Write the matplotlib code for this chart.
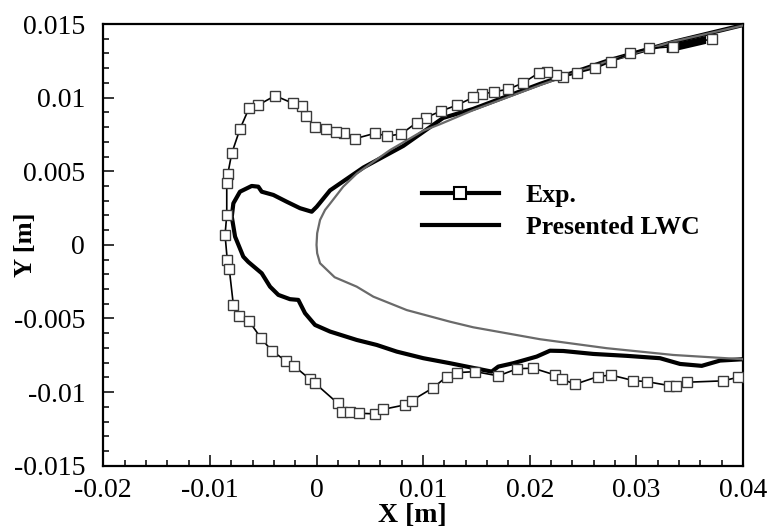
import matplotlib
matplotlib.use("Agg")
import matplotlib.pyplot as plt
from matplotlib.lines import Line2D
from matplotlib.ticker import FixedLocator, MultipleLocator

# Perfil (gris): borde de salida superior -> borde de ataque -> borde de salida inferior
perfil_x = [0.0400, 0.0334, 0.0272, 0.0210, 0.0147, 0.0116, 0.0100, 0.0069, 0.0038,
            0.0025, 0.00127, 0.0008, 0.00033, 0.00006, 0.0, 0.00006, 0.00033, 0.0017,
            0.00377, 0.00533, 0.00846, 0.01252, 0.0147, 0.02096, 0.02722, 0.03347, 0.0400]
perfil_y = [0.01490, 0.01380, 0.01244, 0.01086, 0.00915, 0.00820, 0.00775, 0.00644, 0.00486,
            0.00395, 0.00280, 0.00237, 0.00169, 0.00079, 0.0, -0.00057, -0.00125, -0.0022,
            -0.00284, -0.00352, -0.00443, -0.00522, -0.0056, -0.00641, -0.00702, -0.00748, -0.00777]

# Experimental
exp_x = [0.03707, 0.03347, 0.03122, 0.02941, 0.02760, 0.02612, 0.02446, 0.02315, 0.02247,
         0.02159, 0.02087, 0.01940, 0.01799, 0.01665, 0.01550, 0.01471, 0.01321, 0.01168,
         0.01024, 0.00940, 0.00793, 0.00664, 0.00549, 0.00361, 0.00261, 0.00180, 0.00089,
         -0.00014, -0.00098, -0.00139, -0.00223, -0.00389, -0.00546, -0.00633, -0.00718,
         -0.00795, -0.00833, -0.00842, -0.00842, -0.00858, -0.00837, -0.00818, -0.00780,
         -0.00724, -0.00633, -0.00521, -0.00420, -0.00286, -0.00211, -0.00061, -0.00014,
         0.00199, 0.00236, 0.00314, 0.00401, 0.00549, 0.00627, 0.00830, 0.00893, 0.01096,
         0.01221, 0.01321, 0.01487, 0.01705, 0.01884, 0.02034, 0.02237, 0.02306, 0.02425,
         0.02638, 0.02760, 0.02972, 0.03097, 0.03309, 0.03372, 0.03478, 0.03810, 0.03957]
exp_y = [0.01398, 0.01346, 0.01335, 0.01301, 0.01244, 0.01199, 0.01169, 0.01142, 0.01154,
         0.01176, 0.01169, 0.01101, 0.01057, 0.01040, 0.01023, 0.01002, 0.00950, 0.00909,
         0.00864, 0.00830, 0.00753, 0.00739, 0.00758, 0.00721, 0.00758, 0.00769, 0.00785,
         0.00799, 0.00875, 0.00943, 0.00962, 0.01013, 0.00950, 0.00928, 0.00787,
         0.00622, 0.00479, 0.00422, 0.00203, 0.00067, -0.00103, -0.00166, -0.00408,
         -0.00483, -0.00517, -0.00634, -0.00719, -0.00789, -0.00823, -0.00913, -0.00940,
         -0.01076, -0.01133, -0.01137, -0.01144, -0.01148, -0.01117, -0.01087, -0.01058, -0.00970,
         -0.00895, -0.00868, -0.00861, -0.00890, -0.00841, -0.00838, -0.00884, -0.00913, -0.00947,
         -0.00895, -0.00884, -0.00922, -0.00929, -0.00956, -0.00956, -0.00933, -0.00924, -0.00899]

# zona rellena negra (puntos exp. muy juntos) cerca del borde superior derecho
mancha_x = [0.03285, 0.03654, 0.03654, 0.03285]
mancha_y = [0.01358, 0.01419, 0.01365, 0.01303]

# LWC presentado
lwc_x = [0.0400, 0.03344, 0.02722, 0.02096, 0.01468, 0.01187, 0.00814, 0.00439, 0.00127,
         0.00002, -0.00045, -0.00155, -0.00280, -0.00405, -0.00514, -0.00546, -0.00608,
         -0.00718, -0.00780, -0.00795, -0.00764, -0.00687, -0.00640, -0.00514, -0.00436,
         -0.00358, -0.00249, -0.00171, -0.00108, -0.00014, 0.00127, 0.00377, 0.00565,
         0.00752, 0.01002, 0.01252, 0.01643, 0.01705, 0.01846, 0.02065, 0.02190, 0.02315,
         0.02596, 0.02910, 0.03222, 0.03410, 0.03613, 0.03785, 0.0400]
lwc_y = [0.01493, 0.01378, 0.01249, 0.01093, 0.00923, 0.00862, 0.00672, 0.00525, 0.00370,
         0.00259, 0.00225, 0.00249, 0.00293, 0.00339, 0.00361, 0.00395, 0.00400,
         0.00361, 0.00282, 0.00191, 0.00056, -0.00080, -0.00116, -0.00193, -0.00284,
         -0.00340, -0.00369, -0.00374, -0.00464, -0.00544, -0.00589, -0.00646, -0.00680,
         -0.00725, -0.00770, -0.00804, -0.00861, -0.00827, -0.00804, -0.00759, -0.00719, -0.00721,
         -0.00741, -0.00754, -0.00770, -0.00809, -0.00822, -0.00786, -0.00777]

xticks = [-0.02, -0.01, 0, 0.01, 0.02, 0.03, 0.04]
xtick_labels = ["-0.02", "-0.01", "0", "0.01", "0.02", "0.03", "0.04"]
yticks = [-0.015, -0.01, -0.005, 0, 0.005, 0.01, 0.015]
ytick_labels = ["-0.015", "-0.01", "-0.005", "0", "0.005", "0.01", "0.015"]

plt.rcParams['font.family'] = ['Liberation Serif', 'DejaVu Serif']

fig = plt.figure(figsize=(7.72, 5.29), dpi=100)
ax = fig.add_axes([0.1338, 0.1197, 0.8286, 0.8349])

ax.plot(lwc_x, lwc_y, color="black", lw=3.0, zorder=2)
ax.plot(perfil_x, perfil_y, color="#6a6a6a", lw=1.6, zorder=3)
ax.fill(mancha_x, mancha_y, color="black", lw=0, zorder=4)
ax.plot(exp_x, exp_y, color="black", lw=1.2, marker="s", ms=6.5,
        mfc="white", mec="#3a3a3a", mew=1.0, zorder=5)

ax.set_xlim(-0.02, 0.04)
ax.set_ylim(-0.015, 0.015)
ax.xaxis.set_major_locator(FixedLocator(xticks))
ax.set_xticklabels(xtick_labels)
ax.yaxis.set_major_locator(FixedLocator(yticks))
ax.set_yticklabels(ytick_labels)
ax.xaxis.set_minor_locator(MultipleLocator(0.002))
ax.yaxis.set_minor_locator(MultipleLocator(0.001))

ax.tick_params(which="both", direction="in", top=False, right=False, width=1.1)
ax.tick_params(which="major", length=8, labelsize=20)
ax.tick_params(which="minor", length=4.5)
ax.tick_params(axis="x", which="major", pad=9)
ax.tick_params(axis="y", which="major", pad=13)
for s in ax.spines.values():
    s.set_linewidth(1.6)

ax.set_xlabel("X [m]", fontsize=20, fontweight="bold", va="baseline")
ax.xaxis.set_label_coords(0.4826, -0.128)
ax.set_ylabel("Y [m]", fontsize=19, fontweight="bold")
ax.yaxis.set_label_coords(-0.104, 0.5)

handles = [Line2D([], [], color="black", lw=3, marker="s", ms=9, mfc="white", mec="black", mew=1.5),
           Line2D([], [], color="black", lw=3)]
ax.legend(handles, ["Exp.", "Presented LWC"], loc="center left",
          bbox_to_anchor=(0.4977, 0.575), frameon=False, borderpad=0, borderaxespad=0,
          handlelength=3.0, handletextpad=1.05, labelspacing=0.35,
          prop={"family": "Liberation Serif", "weight": "bold", "size": 18.5})

fig.savefig("out.png", dpi=100)
